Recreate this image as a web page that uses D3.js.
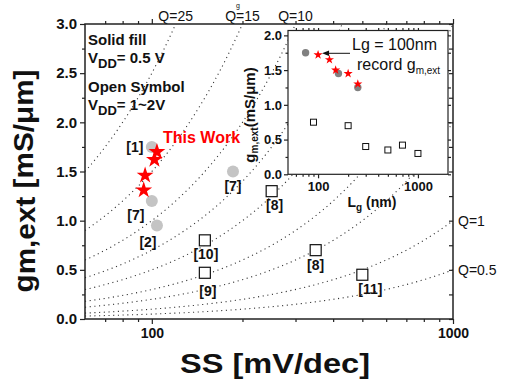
<!DOCTYPE html>
<html>
<head>
<meta charset="utf-8">
<script src="https://cdn.jsdelivr.net/npm/d3@7"></script>
<style>
  html, body { margin: 0; padding: 0; background: #fff; }
  svg { display: block; font-family: "Liberation Sans", Arial, sans-serif; }
  .tick line { stroke: #222; stroke-width: 1.2; }
  .domain { display: none; }
</style>
</head>
<body>
<svg id="chart" width="514" height="385"></svg>
<script>
// ---- Main plot: transconductance vs. subthreshold swing ----
const qValues = [25, 15, 10, 7, 5, 3, 2, 1, 0.5];   // constant Q = gm/SS guide lines
const qTopLabels = [25, 15, 10];
const qRightLabels = [1, 0.5];

// solid fill (VDD = 0.5 V), grey circles
const solidSS   = [100, 100, 104, 186];
const solidGm   = [1.75, 1.20, 0.95, 1.50];
const solidRefs = ["[1]", "[7]", "[2]", "[7]"];

// this work, red stars
const workSS = [104, 102, 95, 94];
const workGm = [1.70, 1.62, 1.46, 1.31];

// open symbols (VDD = 1~2 V), squares
const openSS   = [150, 150, 250, 350, 500];
const openGm   = [0.80, 0.47, 1.30, 0.70, 0.45];
const openRefs = ["[10]", "[9]", "[8]", "[8]", "[11]"];

const xMajor = [100, 1000];
const xMinor = [70, 80, 90, 200, 300, 400, 500, 600, 700, 800, 900];
const yMajor = [0, 0.5, 1.0, 1.5, 2.0, 2.5, 3.0];
const yMinor = [0.25, 0.75, 1.25, 1.75, 2.25, 2.75];

// ---- Inset: gm,ext vs. gate length ----
const insetCircLg = [75, 160, 250];
const insetCircGm = [1.75, 1.45, 1.25];
const insetStarLg = [100, 130, 150, 200, 250];
const insetStarGm = [1.72, 1.65, 1.50, 1.45, 1.30];
const insetSqLg   = [90, 200, 300, 500, 700, 1000];
const insetSqGm   = [0.75, 0.70, 0.40, 0.35, 0.42, 0.30];

const ixMajor = [100, 1000];
const ixMinor = [60, 70, 80, 90, 200, 300, 400, 500, 600, 700, 800, 900];
const iyMajor = [0, 0.5, 1.0, 1.5, 2.0];
const iyMinor = [0.25, 0.75, 1.25, 1.75];

const svg = d3.select("#chart");
const M = { l: 85, r: 453, t: 24, b: 319 };

const x = d3.scaleLog().domain([60, 1000]).range([M.l, M.r]);
const y = d3.scaleLinear().domain([0, 3]).range([M.b, M.t]);

svg.append("defs").append("clipPath").attr("id", "plotClip")
  .append("rect").attr("x", M.l).attr("y", M.t)
  .attr("width", M.r - M.l).attr("height", M.b - M.t);

// constant-Q guide curves: gm [mS/um] = Q * SS [mV/dec] / 1000
const ssSamples = d3.range(0, 161).map(i => 60 * Math.pow(1000 / 60, i / 160));
const qLine = d3.line().x(d => x(d[0])).y(d => y(d[1]));
svg.append("g").attr("clip-path", "url(#plotClip)")
  .selectAll("path").data(qValues).join("path")
  .attr("d", q => qLine(ssSamples.map(s => [s, q * s / 1000])))
  .attr("fill", "none").attr("stroke", "#333").attr("stroke-width", 1.1)
  .attr("stroke-dasharray", "1.1 3.6");

svg.append("g").selectAll("text").data(qTopLabels).join("text")
  .attr("x", q => x(3000 / q)).attr("y", 21)
  .attr("text-anchor", "middle").attr("font-size", 14).attr("fill", "#111")
  .text(q => "Q=" + q);
svg.append("g").selectAll("text").data(qRightLabels).join("text")
  .attr("x", M.r + 5).attr("y", q => y(q) + 5)
  .attr("font-size", 14).attr("fill", "#111")
  .text(q => "Q=" + q);

// axes
function styleTicks(g, size) {
  g.selectAll("text").attr("font-size", size).attr("font-weight", "bold").attr("fill", "#111");
}
svg.append("g").attr("transform", `translate(0,${M.b})`)
  .call(d3.axisBottom(x).tickValues(xMajor).tickSize(5).tickSizeOuter(0).tickPadding(4).tickFormat(d3.format("d")))
  .call(g => styleTicks(g, 14));
svg.append("g").attr("transform", `translate(0,${M.b})`)
  .call(d3.axisBottom(x).tickValues(xMinor).tickSize(3).tickSizeOuter(0).tickFormat(""));
svg.append("g").attr("transform", `translate(0,${M.t})`)
  .call(d3.axisTop(x).tickValues(xMajor).tickSize(5).tickSizeOuter(0).tickFormat(""));
svg.append("g").attr("transform", `translate(0,${M.t})`)
  .call(d3.axisTop(x).tickValues(xMinor).tickSize(3).tickSizeOuter(0).tickFormat(""));
svg.append("g").attr("transform", `translate(${M.l},0)`)
  .call(d3.axisLeft(y).tickValues(yMajor).tickSize(5).tickSizeOuter(0).tickPadding(3).tickFormat(d3.format(".1f")))
  .call(g => styleTicks(g, 15));
svg.append("g").attr("transform", `translate(${M.l},0)`)
  .call(d3.axisLeft(y).tickValues(yMinor).tickSize(3).tickSizeOuter(0).tickFormat(""));
svg.append("g").attr("transform", `translate(${M.r},0)`)
  .call(d3.axisRight(y).tickValues(yMajor.concat(yMinor)).tickSize(-4).tickSizeOuter(0).tickFormat(""));

svg.append("rect").attr("x", M.l).attr("y", M.t)
  .attr("width", M.r - M.l).attr("height", M.b - M.t)
  .attr("fill", "none").attr("stroke", "#222").attr("stroke-width", 1.5);

// axis titles
const yTitle = svg.append("text")
  .attr("transform", "translate(33,181) rotate(-90)")
  .attr("text-anchor", "middle").attr("font-size", 27).attr("font-weight", "bold")
  .attr("fill", "#111").attr("textLength", 223).attr("lengthAdjust", "spacingAndGlyphs");
yTitle.append("tspan").text("g");
yTitle.append("tspan").attr("dy", 2).text("m,ext");
yTitle.append("tspan").attr("dy", -2).text(" [mS/\u03bcm]");

svg.append("text").attr("x", 180).attr("y", 373)
  .attr("font-size", 27).attr("font-weight", "bold").attr("fill", "#111")
  .attr("textLength", 190).attr("lengthAdjust", "spacingAndGlyphs")
  .text("SS [mV/dec]");

// legend notes
const note = svg.append("g").attr("font-size", 15).attr("font-weight", "bold").attr("fill", "#111");
note.append("text").attr("x", 88).attr("y", 45).text("Solid fill");
const v1 = note.append("text").attr("x", 88).attr("y", 63);
v1.append("tspan").text("V");
v1.append("tspan").attr("dy", 5).attr("font-size", 13).text("DD");
v1.append("tspan").attr("dy", -5).text("= 0.5 V");
note.append("text").attr("x", 88).attr("y", 91.5).text("Open Symbol");
const v2 = note.append("text").attr("x", 88).attr("y", 110);
v2.append("tspan").text("V");
v2.append("tspan").attr("dy", 5).attr("font-size", 13).text("DD");
v2.append("tspan").attr("dy", -5).text("= 1~2V");

// marks
const solid = solidSS.map((s, i) => ({ s, g: solidGm[i], ref: solidRefs[i] }));
const open = openSS.map((s, i) => ({ s, g: openGm[i], ref: openRefs[i] }));
const work = workSS.map((s, i) => ({ s, g: workGm[i] }));

svg.append("g").selectAll("circle").data(solid).join("circle")
  .attr("cx", d => x(d.s)).attr("cy", d => y(d.g)).attr("r", 6)
  .attr("fill", "#c4c4c4");
svg.append("g").selectAll("rect").data(open).join("rect")
  .attr("x", d => x(d.s) - 5.5).attr("y", d => y(d.g) - 5.5)
  .attr("width", 11).attr("height", 11)
  .attr("fill", "#fff").attr("stroke", "#111").attr("stroke-width", 1.2);
const bigStar = d3.symbol().type(d3.symbolStar).size(88);
svg.append("g").selectAll("path").data(work).join("path")
  .attr("transform", d => `translate(${x(d.s)},${y(d.g)})`)
  .attr("d", bigStar).attr("fill", "#ff0000");

// reference labels (offsets from each mark)
const solidLabelOffset = [[-17, 0], [-16, 14], [-9, 16.5], [0, 14.5]];
const openLabelOffset = [[1, 14], [3, 18], [3, 14], [0, 15], [8, 14.5]];
const labelG = svg.append("g").attr("font-size", 14).attr("font-weight", "bold").attr("fill", "#111")
  .attr("text-anchor", "middle").attr("dominant-baseline", "central");
labelG.selectAll("text.s").data(solid).join("text").attr("class", "s")
  .attr("x", (d, i) => x(d.s) + solidLabelOffset[i][0])
  .attr("y", (d, i) => y(d.g) + solidLabelOffset[i][1])
  .text(d => d.ref);
labelG.selectAll("text.o").data(open).join("text").attr("class", "o")
  .attr("x", (d, i) => x(d.s) + openLabelOffset[i][0])
  .attr("y", (d, i) => y(d.g) + openLabelOffset[i][1])
  .text(d => d.ref);

svg.append("text").attr("x", 163).attr("y", 143)
  .attr("font-size", 16).attr("font-weight", "bold").attr("fill", "#ff0000")
  .text("This Work");

// small glyph above the top frame
svg.append("text").attr("x", 238).attr("y", 8).attr("font-size", 7)
  .attr("text-anchor", "middle").attr("fill", "#111").text("g");

// ---- inset ----
const I = { l: 288, r: 448, t: 30.5, b: 174.3 };
const xi = d3.scaleLog().domain([50, 2000]).range([I.l, I.r]);
const yi = d3.scaleLinear().domain([0, 2.07]).range([I.b, I.t]);

svg.append("rect").attr("x", I.l).attr("y", I.t)
  .attr("width", I.r - I.l).attr("height", I.b - I.t).attr("fill", "#fff");

svg.append("g").attr("transform", `translate(0,${I.b})`)
  .call(d3.axisBottom(xi).tickValues(ixMajor).tickSize(4).tickSizeOuter(0).tickPadding(3).tickFormat(d3.format("d")))
  .call(g => styleTicks(g, 13));
svg.append("g").attr("transform", `translate(0,${I.b})`)
  .call(d3.axisBottom(xi).tickValues(ixMinor).tickSize(2.5).tickSizeOuter(0).tickFormat(""));
svg.append("g").attr("transform", `translate(0,${I.t})`)
  .call(d3.axisTop(xi).tickValues(ixMajor.concat(ixMinor)).tickSize(2.5).tickSizeOuter(0).tickFormat(""));
svg.append("g").attr("transform", `translate(${I.l},0)`)
  .call(d3.axisLeft(yi).tickValues(iyMajor).tickSize(4).tickSizeOuter(0).tickPadding(2).tickFormat(d3.format(".1f")))
  .call(g => styleTicks(g, 13));
svg.append("g").attr("transform", `translate(${I.l},0)`)
  .call(d3.axisLeft(yi).tickValues(iyMinor).tickSize(2.5).tickSizeOuter(0).tickFormat(""));
svg.append("g").attr("transform", `translate(${I.r},0)`)
  .call(d3.axisRight(yi).tickValues(iyMajor.concat(iyMinor)).tickSize(3).tickSizeOuter(0).tickFormat(""));
svg.selectAll(".tick line").attr("stroke", "#222");

svg.append("rect").attr("x", I.l).attr("y", I.t)
  .attr("width", I.r - I.l).attr("height", I.b - I.t)
  .attr("fill", "none").attr("stroke", "#222").attr("stroke-width", 1.2);

const iCirc = insetCircLg.map((l, i) => ({ l, g: insetCircGm[i] }));
const iStar = insetStarLg.map((l, i) => ({ l, g: insetStarGm[i] }));
const iSq = insetSqLg.map((l, i) => ({ l, g: insetSqGm[i] }));

svg.append("g").selectAll("circle").data(iCirc).join("circle")
  .attr("cx", d => xi(d.l)).attr("cy", d => yi(d.g)).attr("r", 3.7).attr("fill", "#808080");
svg.append("g").selectAll("rect").data(iSq).join("rect")
  .attr("x", d => xi(d.l) - 3).attr("y", d => yi(d.g) - 3)
  .attr("width", 6).attr("height", 6)
  .attr("fill", "#fff").attr("stroke", "#111").attr("stroke-width", 1);
const smallStar = d3.symbol().type(d3.symbolStar).size(26);
svg.append("g").selectAll("path").data(iStar).join("path")
  .attr("transform", d => `translate(${xi(d.l)},${yi(d.g)})`)
  .attr("d", smallStar).attr("fill", "#ff0000");

// inset titles
const iyTitle = svg.append("text")
  .attr("transform", "translate(255,115) rotate(-90)")
  .attr("text-anchor", "middle").attr("font-size", 15).attr("font-weight", "bold").attr("fill", "#111");
iyTitle.append("tspan").text("g");
iyTitle.append("tspan").attr("dy", 3).attr("font-size", 10).text("m,ext");
iyTitle.append("tspan").attr("dy", -3).text("(mS/\u03bcm)");

const ixTitle = svg.append("text").attr("x", 372).attr("y", 207)
  .attr("text-anchor", "middle").attr("font-size", 14).attr("font-weight", "bold").attr("fill", "#111");
ixTitle.append("tspan").text("L");
ixTitle.append("tspan").attr("dy", 4).attr("font-size", 10).text("g");
ixTitle.append("tspan").attr("dy", -4).text(" (nm)");

// annotation for the 100 nm point
svg.append("text").attr("x", 352).attr("y", 50).attr("font-size", 16).attr("fill", "#111").text("Lg = 100nm");
const rec = svg.append("text").attr("x", 357).attr("y", 70).attr("font-size", 16).attr("fill", "#111");
rec.append("tspan").text("record g");
rec.append("tspan").attr("dy", 4).attr("font-size", 10).text("m,ext");

svg.append("line").attr("x1", 350).attr("x2", 327).attr("y1", 53.3).attr("y2", 53.3)
  .attr("stroke", "#111").attr("stroke-width", 1);
svg.append("path")
  .attr("d", `M${xi(100) + 4},53.3 l7,-2.8 l0,5.6 z`)
  .attr("fill", "#111");
</script>
</body>
</html>
